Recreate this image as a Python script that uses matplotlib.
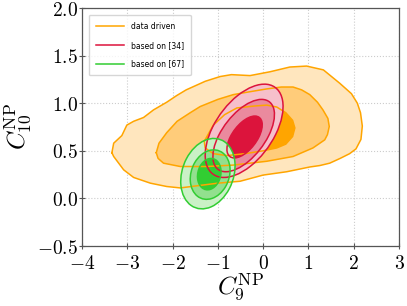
import numpy as np
import matplotlib.pyplot as plt
from matplotlib.patches import Ellipse
from matplotlib.ticker import FuncFormatter

plt.rcParams['mathtext.fontset'] = 'cm'

# data driven fit: contour vertices (C9, C10)
dd_3s = [(-3.34, 0.48), (-3.30, 0.58), (-3.12, 0.66), (-3.01, 0.77), (-2.86, 0.81),
         (-2.64, 0.85), (-2.42, 0.93), (-2.13, 1.01), (-1.91, 1.08), (-1.70, 1.14),
         (-1.28, 1.23), (-0.95, 1.28), (-0.70, 1.30), (-0.29, 1.29), (0.15, 1.33),
         (0.59, 1.38), (0.96, 1.39), (1.33, 1.35), (1.69, 1.21), (1.95, 1.10),
         (2.08, 1.00), (2.15, 0.90), (2.19, 0.76), (2.16, 0.62), (2.05, 0.52),
         (1.91, 0.47), (1.70, 0.42), (1.47, 0.37), (1.25, 0.345), (1.03, 0.33),
         (0.52, 0.28), (0.00, 0.245), (-0.51, 0.18), (-1.00, 0.16), (-1.50, 0.13),
         (-1.83, 0.11), (-2.13, 0.125), (-2.49, 0.16), (-2.86, 0.22), (-3.08, 0.30),
         (-3.30, 0.44)]
dd_2s = [(-2.36, 0.48), (-2.30, 0.58), (-2.13, 0.69), (-1.90, 0.81), (-1.61, 0.90),
         (-1.39, 0.965), (-1.00, 1.04), (-0.66, 1.09), (-0.30, 1.12), (0.08, 1.15),
         (0.40, 1.17), (0.66, 1.17), (0.85, 1.14), (1.03, 1.09), (1.20, 1.01),
         (1.32, 0.93), (1.43, 0.84), (1.46, 0.755), (1.42, 0.67), (1.36, 0.615),
         (1.10, 0.53), (0.66, 0.44), (0.08, 0.39), (-0.66, 0.35), (-1.24, 0.335),
         (-1.83, 0.335), (-2.20, 0.37), (-2.32, 0.42)]
dd_1s = [(-1.30, 0.60), (-1.10, 0.77), (-0.85, 0.88), (-0.58, 0.95), (-0.20, 0.97),
         (0.08, 0.98), (0.30, 0.96), (0.50, 0.90), (0.65, 0.82), (0.70, 0.74),
         (0.65, 0.65), (0.50, 0.57), (0.30, 0.53), (0.00, 0.50), (-0.40, 0.47),
         (-0.80, 0.45), (-1.10, 0.47), (-1.28, 0.53)]

# fits based on [34] and [67]: 1, 2, 3 sigma ellipses
# centre, half extent along C9, half extent along C10, correlation
r34_cx = [-0.41, -0.43, -0.42]
r34_cy = [0.645, 0.66, 0.71]
r34_sx = [0.39, 0.68, 0.86]
r34_sy = [0.22, 0.38, 0.49]
r34_rho = [0.58, 0.58, 0.52]

r67_cx = [-1.19, -1.17, -1.22]
r67_cy = [0.255, 0.25, 0.26]
r67_sx = [0.26, 0.44, 0.60]
r67_sy = [0.165, 0.26, 0.37]
r67_rho = [0.15, 0.18, 0.22]

labels = ['data driven', 'based on [34]', 'based on [67]']
line_cols = ['#FFA500', '#DC143C', '#32CD32']
fill_cols = [['#FFA500', '#FFCC7A', '#FFE6BE'],
             ['#DC143C', '#EA8A9E', '#F6C0CB'],
             ['#32CD32', '#92E08E', '#CAF1C6']]


def ellipse(cx, cy, sx, sy, rho, **kw):
    cov = np.array([[sx**2, rho*sx*sy], [rho*sx*sy, sy**2]])
    vals, vecs = np.linalg.eigh(cov)
    ang = np.degrees(np.arctan2(vecs[1, 1], vecs[0, 1]))
    return Ellipse((cx, cy), 2*np.sqrt(vals[1]), 2*np.sqrt(vals[0]), angle=ang, **kw)


fig = plt.figure(figsize=(4.07, 3.06), dpi=100)
ax = fig.add_axes([82/407, 1-246/306, 317/407, 238/306])
ax.set_axisbelow(True)

# fills first, outermost level first
for i, poly in enumerate([dd_3s, dd_2s, dd_1s]):
    xs, ys = zip(*poly)
    ax.fill(xs, ys, color=fill_cols[0][2-i], lw=0, zorder=1)
fits = [(r34_cx, r34_cy, r34_sx, r34_sy, r34_rho),
        (r67_cx, r67_cy, r67_sx, r67_sy, r67_rho)]
for k, (cx, cy, sx, sy, rho) in enumerate(fits):
    for i in [2, 1, 0]:
        ax.add_patch(ellipse(cx[i], cy[i], sx[i], sy[i], rho[i],
                             facecolor=fill_cols[k+1][i], lw=0, zorder=2+k))

# contour lines on top
for poly in [dd_3s, dd_2s, dd_1s]:
    xs, ys = zip(*(poly + poly[:1]))
    ax.plot(xs, ys, color=line_cols[0], lw=1.1, zorder=4)
for k, (cx, cy, sx, sy, rho) in enumerate(fits):
    for i in range(3):
        ax.add_patch(ellipse(cx[i], cy[i], sx[i], sy[i], rho[i], fill=False,
                             edgecolor=line_cols[k+1], lw=1.1, zorder=5+k))

for lab, c in zip(labels, line_cols):
    ax.plot([], [], color=c, lw=1.1, label=lab)

ax.set_xlim(-4, 3)
ax.set_ylim(-0.5, 2.0)
ax.set_xticks(range(-4, 4))
ax.set_yticks([-0.5, 0.0, 0.5, 1.0, 1.5, 2.0])
ax.xaxis.set_major_formatter(FuncFormatter(lambda v, p: r'$%d$' % v))
ax.yaxis.set_major_formatter(FuncFormatter(lambda v, p: r'$%.1f$' % v))
ax.tick_params(direction='inout', length=4, width=0.8, color='#555555',
               labelsize=14)
ax.tick_params(axis='x', pad=4)
ax.tick_params(axis='y', pad=1)
for s in ax.spines.values():
    s.set_color('#555555')
    s.set_linewidth(0.9)
ax.grid(True, ls=':', color='#cccccc', lw=0.8)

ax.set_xlabel(r'$C_9^{\rm NP}$', fontsize=18, labelpad=-1)
ax.set_ylabel(r'$C_{10}^{\rm NP}$', fontsize=18, labelpad=2)

ax.legend(loc='upper left', fontsize=5.5, handlelength=3.7, labelspacing=1.3,
          borderpad=0.9, handletextpad=0.9, borderaxespad=0.9)

fig.savefig('out.png', dpi=100)
